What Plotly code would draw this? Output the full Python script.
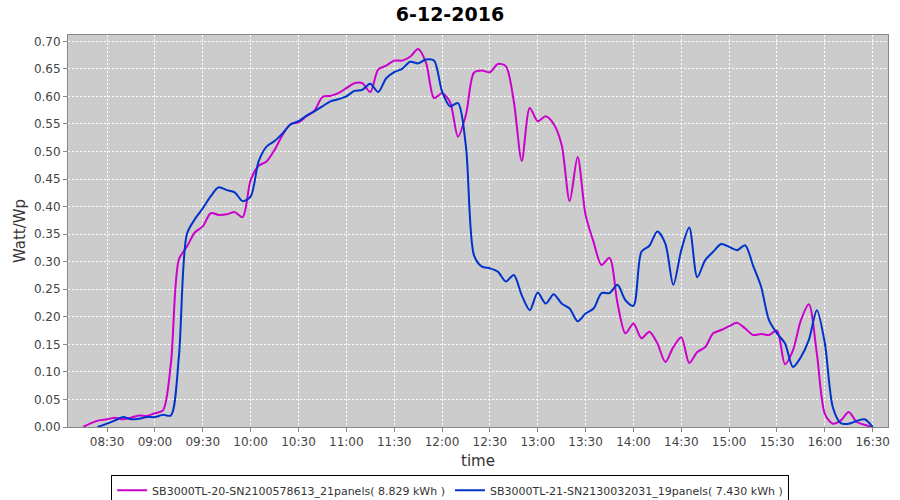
import plotly.graph_objects as go

DAY = "2016-12-06 "

# Series 1 (magenta) — SB3000TL-20
times_a = ["08:15", "08:20", "08:25", "08:30", "08:35", "08:40", "08:45", "08:50", "08:55", "09:00",
           "09:05", "09:10", "09:15", "09:20", "09:25", "09:30", "09:35", "09:40", "09:45", "09:50",
           "09:55", "10:00", "10:05", "10:10", "10:15", "10:20", "10:25", "10:30", "10:35", "10:40",
           "10:45", "10:50", "10:55", "11:00", "11:05", "11:10", "11:15", "11:20", "11:25", "11:30",
           "11:35", "11:40", "11:45", "11:50", "11:55", "12:00", "12:05", "12:10", "12:15", "12:20",
           "12:25", "12:30", "12:35", "12:40", "12:45", "12:50", "12:55", "13:00", "13:05", "13:10",
           "13:15", "13:20", "13:25", "13:30", "13:35", "13:40", "13:45", "13:50", "13:55", "14:00",
           "14:05", "14:10", "14:15", "14:20", "14:25", "14:30", "14:35", "14:40", "14:45", "14:50",
           "14:55", "15:00", "15:05", "15:10", "15:15", "15:20", "15:25", "15:30", "15:35", "15:40",
           "15:45", "15:50", "15:55", "16:00", "16:05", "16:10", "16:15", "16:20", "16:25", "16:29"]
values_a = [0.000, 0.007, 0.012, 0.014, 0.017, 0.014, 0.017, 0.021, 0.020, 0.025,
            0.030, 0.115, 0.304, 0.327, 0.353, 0.364, 0.388, 0.385, 0.386, 0.390,
            0.381, 0.448, 0.474, 0.482, 0.503, 0.530, 0.550, 0.553, 0.564, 0.574,
            0.599, 0.601, 0.606, 0.615, 0.624, 0.624, 0.608, 0.649, 0.656, 0.665,
            0.665, 0.672, 0.686, 0.661, 0.597, 0.606, 0.590, 0.527, 0.567, 0.643,
            0.647, 0.644, 0.659, 0.655, 0.591, 0.483, 0.579, 0.555, 0.564, 0.550,
            0.512, 0.410, 0.490, 0.385, 0.336, 0.294, 0.307, 0.225, 0.170, 0.188,
            0.161, 0.173, 0.152, 0.118, 0.145, 0.163, 0.116, 0.136, 0.145, 0.170,
            0.176, 0.183, 0.189, 0.179, 0.167, 0.169, 0.167, 0.175, 0.114, 0.139,
            0.194, 0.223, 0.133, 0.024, 0.006, 0.012, 0.027, 0.009, 0.004, 0.000]

# Series 2 (blue) — SB3000TL-21
times_b = ["08:24", "08:30", "08:35", "08:40", "08:45", "08:50", "08:55", "09:00",
           "09:05", "09:10", "09:15", "09:20", "09:25", "09:30", "09:35", "09:40", "09:45", "09:50",
           "09:55", "10:00", "10:05", "10:10", "10:15", "10:20", "10:25", "10:30", "10:35", "10:40",
           "10:45", "10:50", "10:55", "11:00", "11:05", "11:10", "11:15", "11:20", "11:25", "11:30",
           "11:35", "11:40", "11:45", "11:50", "11:55", "12:00", "12:05", "12:10", "12:15", "12:20",
           "12:25", "12:30", "12:35", "12:40", "12:45", "12:50", "12:55", "13:00", "13:05", "13:10",
           "13:15", "13:20", "13:25", "13:30", "13:35", "13:40", "13:45", "13:50", "13:55", "14:00",
           "14:05", "14:10", "14:15", "14:20", "14:25", "14:30", "14:35", "14:40", "14:45", "14:50",
           "14:55", "15:00", "15:05", "15:10", "15:15", "15:20", "15:25", "15:30", "15:35", "15:40",
           "15:45", "15:50", "15:55", "16:00", "16:05", "16:10", "16:15", "16:20", "16:25", "16:30"]
values_b = [0.000, 0.006, 0.012, 0.018, 0.014, 0.015, 0.018, 0.018,
            0.022, 0.021, 0.127, 0.350, 0.377, 0.397, 0.419, 0.435, 0.430, 0.426,
            0.410, 0.418, 0.482, 0.509, 0.519, 0.533, 0.549, 0.555, 0.565, 0.573,
            0.582, 0.591, 0.595, 0.600, 0.610, 0.612, 0.623, 0.608, 0.633, 0.644,
            0.650, 0.663, 0.660, 0.667, 0.665, 0.609, 0.582, 0.588, 0.509, 0.312,
            0.291, 0.288, 0.282, 0.264, 0.276, 0.239, 0.212, 0.244, 0.224, 0.241,
            0.224, 0.215, 0.192, 0.206, 0.215, 0.243, 0.243, 0.258, 0.230, 0.220,
            0.318, 0.329, 0.355, 0.333, 0.258, 0.321, 0.362, 0.272, 0.303, 0.318,
            0.332, 0.327, 0.321, 0.330, 0.293, 0.255, 0.194, 0.170, 0.152, 0.109,
            0.127, 0.158, 0.212, 0.152, 0.036, 0.007, 0.006, 0.011, 0.014, 0.000]

name_a = "SB3000TL-20-SN2100578613_21panels( 8.829 kWh )"
name_b = "SB3000TL-21-SN2130032031_19panels( 7.430 kWh )"
title_text = "6-12-2016"

fig = go.Figure()
fig.add_trace(go.Scatter(x=[DAY + t for t in times_a], y=values_a, mode="lines",
                         line=dict(color="#CC00CC", width=2, shape="spline", smoothing=0.8),
                         name=name_a))
fig.add_trace(go.Scatter(x=[DAY + t for t in times_b], y=values_b, mode="lines",
                         line=dict(color="#0033CC", width=2, shape="spline", smoothing=0.8),
                         name=name_b))

axis_font = dict(family="DejaVu Sans", size=12, color="#444444")

fig.update_layout(
    width=900, height=500,
    margin=dict(l=68, r=12, t=35, b=73, autoexpand=False),
    paper_bgcolor="white",
    plot_bgcolor="#CCCCCC",
    title=dict(text="<b>" + title_text + "</b>", x=0.5, xref="container", xanchor="center",
               y=0.972, yref="container", yanchor="middle",
               font=dict(family="DejaVu Sans", size=19, color="black")),
    font=dict(family="DejaVu Sans"),
    showlegend=True,
    legend=dict(orientation="h", x=0.466, xref="paper", xanchor="center",
                y=-0.122, yref="paper", yanchor="top",
                bordercolor="black", borderwidth=1, bgcolor="white",
                font=dict(family="DejaVu Sans", size=11, color="#333333"),
                itemwidth=30, tracegroupgap=0),
)

fig.update_xaxes(
    type="date",
    range=[DAY + "08:05:30", DAY + "16:39:36"],
    tick0=DAY + "08:30", dtick=1800000, tickformat="%H:%M",
    tickfont=axis_font,
    title=dict(text="time", font=dict(family="DejaVu Sans", size=15, color="#333333"), standoff=7),
    showgrid=True, gridcolor="white", griddash="2px,2px", gridwidth=1,
    showline=True, linecolor="#888888", linewidth=1, mirror=True,
    ticks="outside", ticklen=4, tickcolor="#888888",
    zeroline=False,
)
fig.update_yaxes(
    range=[0, 0.7115],
    tick0=0, dtick=0.05, tickformat=".2f",
    tickfont=axis_font,
    title=dict(text="Watt/Wp", font=dict(family="DejaVu Sans", size=15, color="#333333"), standoff=4),
    showgrid=True, gridcolor="white", griddash="2px,2px", gridwidth=1,
    showline=True, linecolor="#888888", linewidth=1, mirror=True,
    ticks="outside", ticklen=4, tickcolor="#888888",
    zeroline=False,
)

fig.write_html("out.html", config={"displayModeBar": False},
               post_script="document.body.style.margin='0';")
